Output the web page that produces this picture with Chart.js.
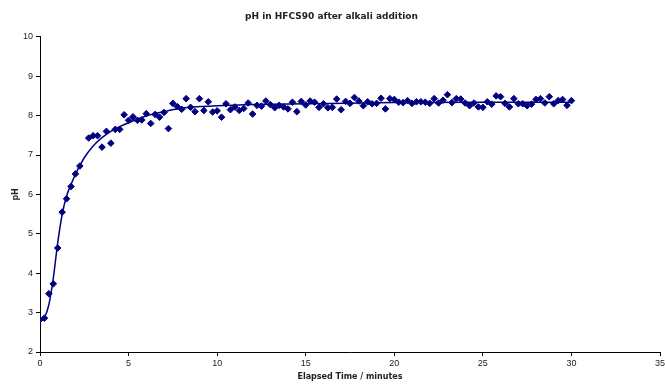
<!DOCTYPE html>
<html>
<head>
<meta charset="utf-8">
<title>pH in HFCS90 after alkali addition</title>
<script src="https://cdn.jsdelivr.net/npm/chart.js@4.4.1/dist/chart.umd.min.js"></script>
<style>
  html, body { margin: 0; padding: 0; background: #fff; }
  canvas { display: block; }
</style>
</head>
<body>
<canvas id="grafico" width="665" height="385"></canvas>
<script>
// measured points, minutes
const times = [
  0, 0.25, 0.5, 0.75, 1, 1.25, 1.5, 1.75, 2, 2.25,
  2.75, 3, 3.25, 3.5, 3.75, 4, 4.25, 4.5, 4.75,
  5, 5.25, 5.5, 5.75, 6, 6.25, 6.5, 6.75, 7, 7.25, 7.5, 7.75,
  8, 8.25, 8.5, 8.75, 9, 9.25, 9.5, 9.75, 10, 10.25, 10.5, 10.75,
  11, 11.25, 11.5, 11.75, 12, 12.25, 12.5, 12.75, 13, 13.25, 13.5, 13.75,
  14, 14.25, 14.5, 14.75, 15, 15.25, 15.5, 15.75, 16, 16.25, 16.5, 16.75,
  17, 17.25, 17.5, 17.75, 18, 18.25, 18.5, 18.75, 19, 19.25, 19.5, 19.75,
  20, 20.25, 20.5, 20.75, 21, 21.25, 21.5, 21.75, 22, 22.25, 22.5, 22.75,
  23, 23.25, 23.5, 23.75, 24, 24.25, 24.5, 24.75, 25, 25.25, 25.5, 25.75,
  26, 26.25, 26.5, 26.75, 27, 27.25, 27.5, 27.75, 28, 28.25, 28.5, 28.75,
  29, 29.25, 29.5, 29.75, 30
];
const phValues = [
  2.82, 2.86, 3.48, 3.73, 4.64, 5.55, 5.89, 6.20, 6.52, 6.72,
  7.43, 7.49, 7.49, 7.20, 7.60, 7.30, 7.65, 7.65, 8.02,
  7.88, 7.97, 7.88, 7.89, 8.05, 7.80, 8.03, 7.96, 8.08, 7.67, 8.31, 8.23,
  8.16, 8.43, 8.21, 8.10, 8.43, 8.13, 8.35, 8.09, 8.12, 7.96, 8.30, 8.15,
  8.22, 8.13, 8.18, 8.32, 8.04, 8.26, 8.24, 8.37, 8.28, 8.20, 8.26, 8.22,
  8.17, 8.34, 8.10, 8.36, 8.27, 8.37, 8.34, 8.21, 8.30, 8.20, 8.21, 8.42,
  8.15, 8.36, 8.31, 8.46, 8.37, 8.25, 8.35, 8.30, 8.31, 8.44, 8.17, 8.43,
  8.41, 8.34, 8.33, 8.38, 8.31, 8.35, 8.35, 8.34, 8.31, 8.43, 8.32, 8.39,
  8.53, 8.33, 8.43, 8.42, 8.32, 8.25, 8.32, 8.22, 8.21, 8.35, 8.29, 8.50,
  8.48, 8.31, 8.22, 8.43, 8.30, 8.30, 8.25, 8.29, 8.41, 8.43, 8.32, 8.48,
  8.30, 8.38, 8.41, 8.26, 8.38
];

// fitted curve
const fitTimes = [0, 0.25, 0.5, 0.75, 1, 1.25, 1.5, 1.75, 2, 2.5, 3, 3.5, 4, 4.5, 5, 6, 7, 8, 9, 10, 12, 15, 20, 25, 30];
const fitValues = [2.80, 2.88, 3.20, 3.87, 4.77, 5.49, 5.96, 6.25, 6.51, 6.93, 7.23, 7.44, 7.60, 7.72, 7.82, 7.99, 8.10, 8.19, 8.23, 8.25, 8.28, 8.30, 8.33, 8.34, 8.34];

const xTicks = [0, 5, 10, 15, 20, 25, 30, 35];
const yTicks = [2, 3, 4, 5, 6, 7, 8, 9, 10];

const navy = "#000080";
const tickFont = { family: "'Liberation Sans', Arial, sans-serif", size: 9 };
const titleFont = { family: "'DejaVu Sans', Verdana, sans-serif", size: 8, weight: "bold" };

function pairs(xs, ys) {
  return xs.map((x, i) => ({ x: x, y: ys[i] }));
}

const chart = new Chart(document.getElementById("grafico"), {
  type: "scatter",
  data: {
    datasets: [
      {
        label: "pH",
        data: pairs(times, phValues),
        showLine: false,
        pointStyle: "rectRot",
        pointRadius: 3.3,
        pointBackgroundColor: navy,
        pointBorderColor: navy,
        pointBorderWidth: 1,
        order: 0
      },
      {
        label: "fit",
        data: pairs(fitTimes, fitValues),
        showLine: true,
        borderColor: navy,
        borderWidth: 1.5,
        cubicInterpolationMode: "monotone",
        pointRadius: 0,
        fill: false,
        order: 1
      }
    ]
  },
  options: {
    responsive: false,
    animation: false,
    layout: { padding: { left: 0, right: 2, top: 0, bottom: 0 } },
    plugins: {
      legend: { display: false },
      tooltip: { enabled: false },
      title: {
        display: true,
        text: "pH in HFCS90 after alkali addition",
        color: "#222",
        font: { family: "'DejaVu Sans', Verdana, sans-serif", size: 9, weight: "bold" },
        padding: { top: 11, bottom: 15 }
      }
    },
    scales: {
      x: {
        type: "linear",
        min: 0,
        max: 35,
        afterBuildTicks: s => { s.ticks = xTicks.map(v => ({ value: v })); },
        afterFit: s => { s.height = 33; s.paddingLeft = 0; s.paddingRight = 0; },
        grid: { drawOnChartArea: false, tickLength: 4, color: "#000" },
        border: { display: true, color: "#000", width: 1 },
        ticks: { color: "#222", font: tickFont, padding: 2, maxRotation: 0, autoSkip: false },
        title: {
          display: true,
          text: "Elapsed Time / minutes",
          color: "#222",
          font: titleFont,
          padding: { top: 2, bottom: 3 }
        }
      },
      y: {
        min: 2,
        max: 10,
        afterBuildTicks: s => { s.ticks = yTicks.map(v => ({ value: v })); },
        afterFit: s => { s.width = 40; s.paddingTop = 0; s.paddingBottom = 0; },
        grid: { drawOnChartArea: false, tickLength: 4, color: "#000" },
        border: { display: true, color: "#000", width: 1 },
        ticks: { color: "#222", font: tickFont, padding: 3 },
        title: {
          display: true,
          text: "pH",
          color: "#222",
          font: titleFont,
          padding: { top: 11, bottom: 0 }
        }
      }
    }
  }
});
</script>
</body>
</html>
